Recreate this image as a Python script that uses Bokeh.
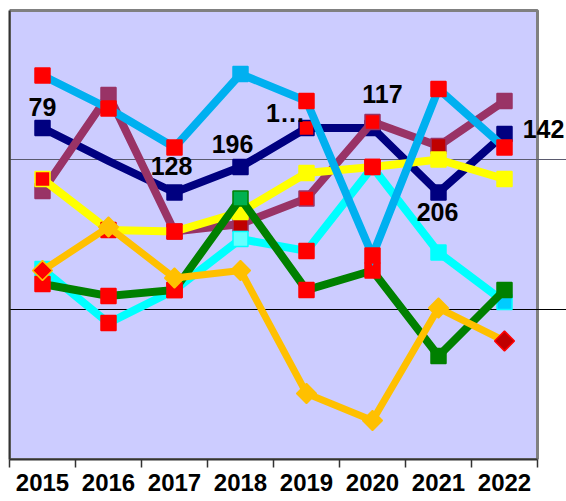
import numpy as np
from bokeh.plotting import figure
from bokeh.models import (Range1d, FixedTicker, ColumnDataSource, LabelSet,
                          BoxAnnotation, Grid, LinearAxis)
from bokeh.core.properties import value
from bokeh.embed import file_html
from bokeh.resources import INLINE

years = ["2015", "2016", "2017", "2018", "2019", "2020", "2021", "2022"]

navy_vals = [2.21, 1.99, 1.78, 1.95, 2.21, 2.21, 1.78, 2.17]
navy_labels = ["79", "", "128", "196", "1…", "117", "206", "142"]
sky_vals = [2.56, 2.34, 2.08, 2.57, 2.39, 1.36, 2.47, 2.08]
maroon_vals = [1.79, 2.43, 1.52, 1.57, 1.74, 2.25, 2.09, 2.39]
yellow_vals = [1.87, 1.53, 1.52, 1.65, 1.91, 1.95, 2.00, 1.87]
cyan_vals = [1.27, 0.91, 1.13, 1.47, 1.39, 1.95, 1.38, 1.05]
green_vals = [1.17, 1.09, 1.13, 1.74, 1.13, 1.26, 0.69, 1.13]
orange_vals = [1.26, 1.55, 1.21, 1.26, 0.44, 0.26, 1.01, 0.79]

# axis extent of the plot area
Y_MAX = 2.993
N = len(years)

# styles
NAVY, SKY, MAROON, YELLOW = "#000080", "#00B0F0", "#993366", "#FFFF00"
CYAN, GREEN, ORANGE = "#00FFFF", "#008000", "#FFC000"
RED, DRED = "#FF0000", "#C00000"
FONT = "Arial, sans-serif"

xs = [i + 0.5 for i in range(N)]

# frame extends to the right of the plot area so the last label is not clipped
p = figure(width=566, height=501, output_backend="svg", toolbar_location=None,
           x_range=Range1d(0, 557 / 66), y_range=Range1d(0, 454 / 150),
           y_axis_location=None, min_border_left=9, min_border_right=0,
           min_border_top=5, min_border_bottom=42)
p.background_fill_color = "white"
p.border_fill_color = "white"
p.outline_line_color = None
p.grid.visible = False

# plot area
p.add_layout(BoxAnnotation(left=0, right=N, bottom=0, top=Y_MAX,
                           fill_color="#CCCCFF", fill_alpha=1,
                           line_color="#808080", line_width=3, line_alpha=1,
                           level="underlay"))
p.add_layout(Grid(dimension=1, ticker=FixedTicker(ticks=[2]), bounds=(0, N),
                  grid_line_color="#5a5a6e", grid_line_width=1.2))
p.add_layout(Grid(dimension=1, ticker=FixedTicker(ticks=[1]), bounds=(0, N),
                  grid_line_color="#000000", grid_line_width=1.2))

ya = LinearAxis(ticker=FixedTicker(ticks=[]), bounds=(0, Y_MAX),
                axis_line_color="#333333", axis_line_width=2,
                major_tick_out=0, minor_tick_out=0, major_label_text_font_size="0px",
                major_label_standoff=0)
p.add_layout(ya, "left")

xa = p.xaxis[0]
xa.bounds = (0, N)
xa.ticker = FixedTicker(ticks=xs, minor_ticks=list(range(N + 1)))
xa.major_label_overrides = {x: y for x, y in zip(xs, years)}
xa.major_tick_out = 0
xa.major_tick_in = 0
xa.minor_tick_out = 8
xa.minor_tick_in = 0
xa.minor_tick_line_color = "#333333"
xa.minor_tick_line_width = 1.5
xa.axis_line_color = "#333333"
xa.axis_line_width = 2
xa.major_label_standoff = 6
xa.major_label_text_font = FONT
xa.major_label_text_font_style = "bold"
xa.major_label_text_font_size = "24px"
xa.major_label_text_color = "black"

series = [
    (navy_vals, NAVY, 8, "square",
     [NAVY, NAVY, NAVY, NAVY, RED, NAVY, NAVY, NAVY],
     [NAVY] * 8, [1, 0, 1, 1, 1, 1, 1, 1]),
    (maroon_vals, MAROON, 8, "square",
     [MAROON, MAROON, RED, DRED, RED, RED, DRED, MAROON],
     [MAROON] * 8, [1] * 8),
    (yellow_vals, YELLOW, 8, "square",
     [RED, RED, RED, YELLOW, YELLOW, RED, YELLOW, YELLOW],
     [YELLOW, RED, RED, YELLOW, YELLOW, RED, YELLOW, YELLOW], [1] * 8),
    (cyan_vals, CYAN, 8, "square",
     [CYAN, RED, RED, "#66FFFF", RED, RED, CYAN, "#00CCFF"],
     [CYAN, RED, RED, CYAN, RED, RED, CYAN, CYAN], [1] * 8),
    (green_vals, GREEN, 8, "square",
     [RED, RED, RED, "#00B050", RED, RED, GREEN, GREEN],
     [RED, RED, RED, GREEN, RED, RED, GREEN, GREEN], [1] * 8),
    (sky_vals, SKY, 8, "square",
     [RED, RED, RED, SKY, RED, RED, RED, RED],
     [RED, RED, RED, SKY, RED, RED, RED, RED], [1] * 8),
    (orange_vals, ORANGE, 7, "diamond",
     [RED, ORANGE, ORANGE, ORANGE, ORANGE, ORANGE, ORANGE, DRED],
     [ORANGE] * 7 + [RED], [1] * 8),
]

for vals, col, lw, mk, fills, lines, alphas in series:
    src = ColumnDataSource(dict(x=xs, y=vals, f=fills, l=lines, a=alphas))
    p.line("x", "y", source=src, line_color=col, line_width=lw, line_join="miter")
    if mk == "square":
        p.scatter("x", "y", source=src, marker="square", size=15, fill_color="f",
                  line_color="l", line_width=1.5, fill_alpha="a", line_alpha="a")
    else:
        p.scatter("x", "y", source=src, marker="square", size=14, angle=np.pi / 4,
                  fill_color="f", line_color="l", line_width=1.5,
                  fill_alpha="a", line_alpha="a")

lab_dx = [0, 0, -3, -8, -21, 10, -1, 39]
lab_dy = [21, 0, 27, 23, 15, 34, -19, 5]
lsrc = ColumnDataSource(dict(x=xs, y=navy_vals, t=navy_labels, dx=lab_dx, dy=lab_dy))
p.add_layout(LabelSet(x="x", y="y", text="t", source=lsrc, x_offset="dx", y_offset="dy",
                      text_font=value(FONT), text_font_style="bold",
                      text_font_size="25px", text_color="black",
                      text_align="center", text_baseline="middle"))

open("out.html", "w").write(file_html(p, INLINE))
